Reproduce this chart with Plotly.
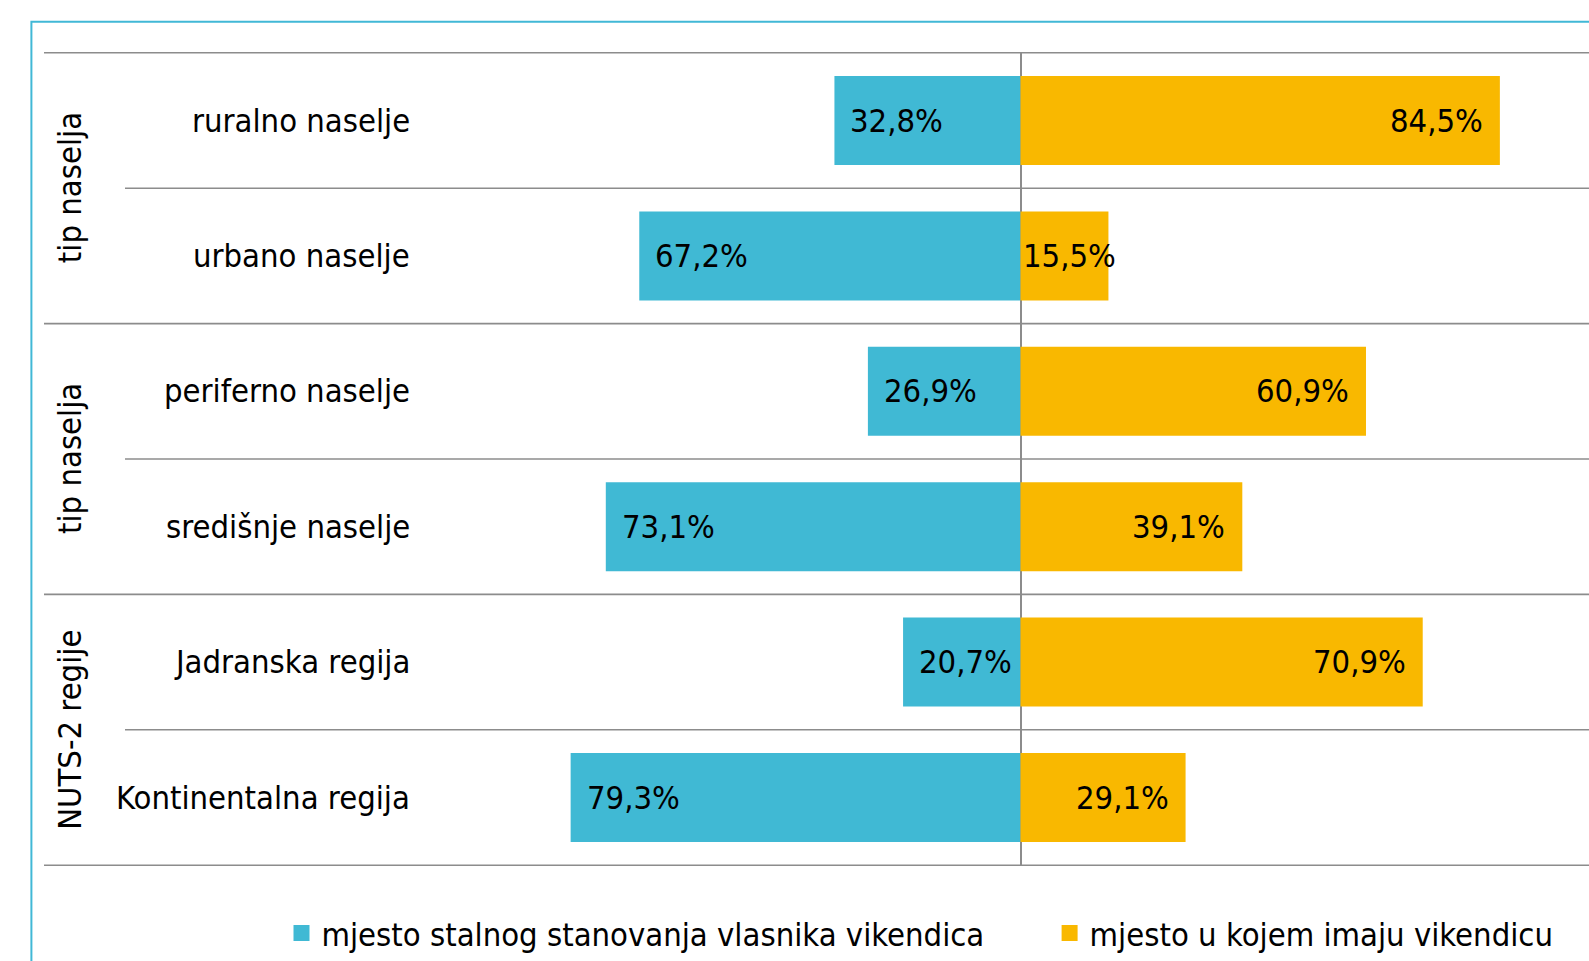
import plotly.graph_objects as go

categories = ["ruralno naselje", "urbano naselje", "periferno naselje",
              "središnje naselje", "Jadranska regija", "Kontinentalna regija"]
groups = ["tip naselja", "tip naselja", "NUTS-2 regije"]
residence = [32.8, 67.2, 26.9, 73.1, 20.7, 79.3]   # mjesto stalnog stanovanja vlasnika vikendica
cottage = [84.5, 15.5, 60.9, 39.1, 70.9, 29.1]     # mjesto u kojem imaju vikendicu
series_names = ["mjesto stalnog stanovanja vlasnika vikendica", "mjesto u kojem imaju vikendicu"]

BLUE = "#40B9D4"
ORANGE = "#F9B800"
GRID = "#8C8C8C"
FONT = "DejaVu Sans Condensed, Liberation Sans Narrow, Arial Narrow, sans-serif"
FS = 32.5

# body margin is removed in the page, so figure coordinates = screen coordinates
W, H = 1589, 961
L, R, T, B = 44, W, 51.7, 866.5   # plot area in figure pixels
ZERO_PX = 1020.5
PX_PER_UNIT = 5.673
XMIN = (L - ZERO_PX) / PX_PER_UNIT
XMAX = (R - ZERO_PX) / PX_PER_UNIT


def px_to_paper_x(px):
    return (px - L) / (R - L)


def px_to_paper_y(py):
    return (B - py) / (B - T)


def fmt(v):
    return f"{v:.1f}".replace(".", ",") + "%"


fig = go.Figure()
fig.add_trace(go.Bar(y=categories, x=[-v for v in residence], orientation="h",
                     name=series_names[0], marker=dict(color=BLUE, line=dict(width=0)),
                     hovertemplate="%{y}: %{customdata}<extra></extra>",
                     customdata=[fmt(v) for v in residence], showlegend=False))
fig.add_trace(go.Bar(y=categories, x=cottage, orientation="h",
                     name=series_names[1], marker=dict(color=ORANGE, line=dict(width=0)),
                     hovertemplate="%{y}: %{customdata}<extra></extra>",
                     customdata=[fmt(v) for v in cottage], showlegend=False))
# legend entries (square swatches)
for name, col, leg in zip(series_names, [BLUE, ORANGE], ["legend", "legend2"]):
    fig.add_trace(go.Scatter(x=[None], y=[None], mode="markers", name=name,
                             marker=dict(symbol="square", size=16, color=col, line=dict(width=0)),
                             legend=leg, showlegend=True, hoverinfo="skip"))

lab_font = dict(size=FS, color="black", family=FONT)
annotations = []
# value labels
for cat, v in zip(categories, residence):
    annotations.append(dict(x=-v, y=cat, xref="x", yref="y", text=fmt(v), showarrow=False,
                            xanchor="left", xshift=14, font=lab_font))
for cat, v in zip(categories, cottage):
    if v < 20:
        annotations.append(dict(x=0, y=cat, xref="x", yref="y", text=fmt(v), showarrow=False,
                                xanchor="left", xshift=0, font=lab_font))
    else:
        annotations.append(dict(x=v, y=cat, xref="x", yref="y", text=fmt(v), showarrow=False,
                                xanchor="right", xshift=-15, font=lab_font))
# category labels
for cat in categories:
    annotations.append(dict(x=px_to_paper_x(412), y=cat, xref="paper", yref="y", text=cat,
                            showarrow=False, xanchor="right", font=lab_font))
# group labels
for i, g in enumerate(groups):
    annotations.append(dict(x=px_to_paper_x(70), y=2 * i + 0.5, xref="paper", yref="y", text=g,
                            showarrow=False, textangle=-90, xanchor="center", yanchor="middle",
                            font=lab_font))

shapes = []
n = len(categories)
for k in range(n + 1):
    yv = k - 0.5
    x0 = 0 if k % 2 == 0 else px_to_paper_x(125)
    shapes.append(dict(type="line", xref="paper", yref="y", x0=x0, x1=1, y0=yv, y1=yv,
                       line=dict(color=GRID, width=1.6), layer="below"))
# outer chart border (light blue)
shapes.append(dict(type="path", xref="paper", yref="paper",
                   path=(f"M {px_to_paper_x(31.4)},{px_to_paper_y(H + 30)} "
                         f"L {px_to_paper_x(31.4)},{px_to_paper_y(21.3)} "
                         f"L {px_to_paper_x(W + 30)},{px_to_paper_y(21.3)}"),
                   line=dict(color="#41B8D6", width=2)))

leg_common = dict(orientation="h", xanchor="left", yanchor="middle",
                  y=px_to_paper_y(934),
                  font=dict(size=FS, family=FONT, color="black"),
                  bgcolor="rgba(0,0,0,0)", borderwidth=0, itemsizing="trace")

fig.update_layout(
    width=W, height=H,
    margin=dict(l=L, r=W - R, t=T, b=H - B, pad=0, autoexpand=False),
    paper_bgcolor="white", plot_bgcolor="white",
    barmode="relative", bargap=0.343,
    font=dict(family=FONT, size=FS, color="black"),
    xaxis=dict(range=[XMIN, XMAX], showgrid=False, showticklabels=False, ticks="",
               zeroline=True, zerolinecolor=GRID, zerolinewidth=1.6, fixedrange=True),
    yaxis=dict(categoryorder="array", categoryarray=categories, autorange="reversed",
               showgrid=False, showticklabels=False, ticks="", zeroline=False, fixedrange=True),
    showlegend=True,
    legend=dict(x=px_to_paper_x(281.5), **leg_common),
    legend2=dict(x=px_to_paper_x(1049.6), **leg_common),
    annotations=annotations,
    shapes=shapes,
)

fig.write_html("out.html", config={"displayModeBar": False},
               post_script="document.body.style.margin='0';document.documentElement.style.overflow='hidden';")
